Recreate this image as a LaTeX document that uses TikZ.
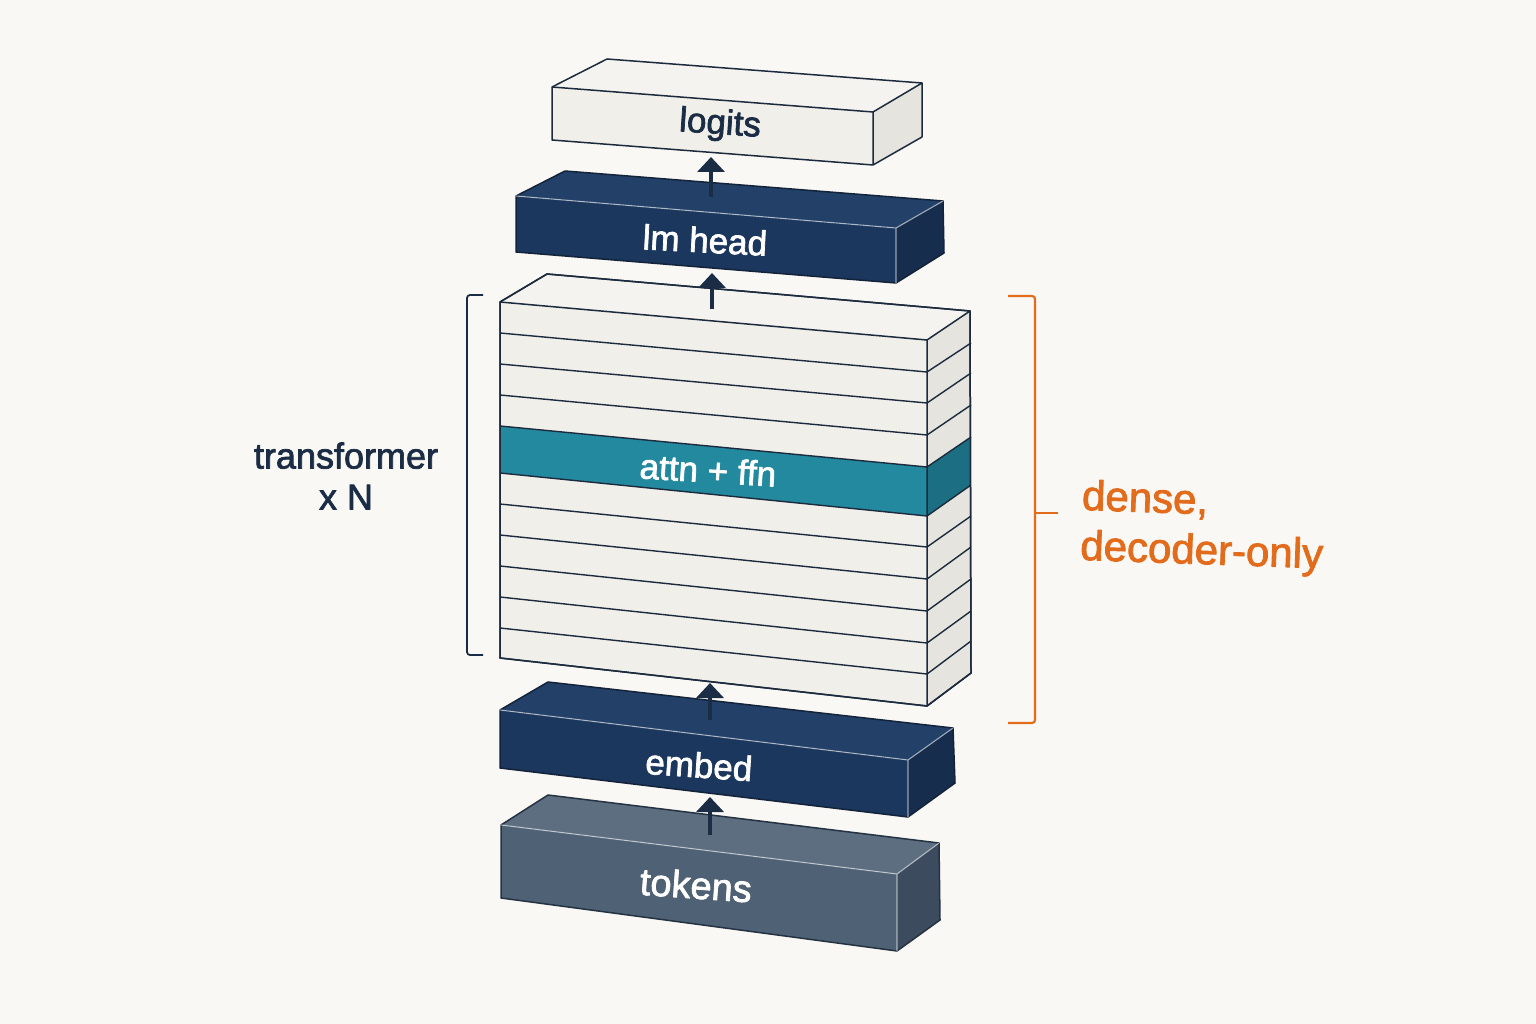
\documentclass[tikz,border=0pt]{standalone}
\usepackage{fontspec}
\setmainfont{Liberation Sans}[FakeBold=2]
\usetikzlibrary{arrows.meta}
\definecolor{bg}{HTML}{F9F8F4}
\definecolor{navyline}{HTML}{1C2A3D}
\definecolor{navytext}{HTML}{1B2C45}
\definecolor{lightfront}{HTML}{F0EFEA}
\definecolor{lighttop}{HTML}{F4F3EF}
\definecolor{lightside}{HTML}{E5E4DF}
\definecolor{darkfront}{HTML}{1C375E}
\definecolor{darktop}{HTML}{234168}
\definecolor{darkside}{HTML}{172D4D}
\definecolor{darkedge}{HTML}{13233A}
\definecolor{slatefront}{HTML}{4F6174}
\definecolor{slatetop}{HTML}{5D6E80}
\definecolor{slateside}{HTML}{3C4C5E}
\definecolor{slateedge}{HTML}{243242}
\definecolor{tealfront}{HTML}{23899E}
\definecolor{tealside}{HTML}{1C6F82}
\definecolor{orangeac}{HTML}{E26C1C}
\newcommand\slab[5]{%
  \fill[#3] (#1ftl) -- (#1btl) -- (#1btr) -- (#1ftr) -- cycle;
  \fill[#2] (#1ftl) -- (#1ftr) -- (#1fbr) -- (#1fbl) -- cycle;
  \fill[#4] (#1ftr) -- (#1btr) -- (#1bbr) -- (#1fbr) -- cycle;
  \draw[#5] (#1fbl) -- (#1ftl) -- (#1btl) -- (#1btr) -- (#1bbr) -- (#1fbr) -- cycle;
}
\begin{document}
\begin{tikzpicture}[x=1pt,y=-1pt,line join=round,
  lightedge/.style={draw=navyline,line width=1.5pt},
  darkedgestyle/.style={draw=darkedge,line width=1.5pt},
  slateedgestyle/.style={draw=slateedge,line width=1.5pt},
  hilite/.style={draw=white,opacity=0.55,line width=1.1pt},
  layerline/.style={draw=navyline,line width=1.4pt},
  flow/.style={draw=navytext,line width=3.6pt,-{Triangle[width=27pt,length=15pt]}},
  boxlabel/.style={font=\fontsize{35}{40}\selectfont,inner sep=0pt},
  sidelabel/.style={font=\fontsize{36}{41}\selectfont,text=navytext,align=center,inner sep=0pt},
  accentlabel/.style={font=\fontsize{42}{50}\selectfont,text=orangeac,align=left,inner sep=0pt},
  navybracket/.style={draw=navytext,line width=1.8pt,rounded corners=3pt},
  orangebracket/.style={draw=orangeac,line width=2.2pt,rounded corners=3pt}]
\useasboundingbox[fill=bg] (0,0) rectangle (1536,1024);

% ---------- logits ----------
\coordinate (Lftl) at (552,87);  \coordinate (Lftr) at (873,112);
\coordinate (Lfbr) at (873,165); \coordinate (Lfbl) at (552,140);
\coordinate (Lbtl) at (607,59);  \coordinate (Lbtr) at (922,83);
\coordinate (Lbbr) at (922,137);
\slab{L}{lightfront}{lighttop}{lightside}{lightedge}
\draw[lightedge] (Lftl) -- (Lftr) -- (Lbtr) (Lftr) -- (Lfbr);
\node[boxlabel,text=navytext,rotate=-4] (logits) at (720,125) {logits};

% ---------- lm head ----------
\coordinate (Hftl) at (516,196); \coordinate (Hftr) at (896,228);
\coordinate (Hfbr) at (896,283); \coordinate (Hfbl) at (516,252);
\coordinate (Hbtl) at (565,171); \coordinate (Hbtr) at (943,201);
\coordinate (Hbbr) at (944,253);
\slab{H}{darkfront}{darktop}{darkside}{darkedgestyle}
\draw[hilite] (Hftl) -- (Hftr) -- (Hbtr) (Hftr) -- (Hfbr);
\node[boxlabel,text=white,rotate=-3] (lmhead) at (705,240) {lm head};

% ---------- transformer stack ----------
\coordinate (Sftl) at (500,302); \coordinate (Sftr) at (927,340);
\coordinate (Sfbr) at (927,706); \coordinate (Sfbl) at (500,658);
\coordinate (Sbtl) at (547,274); \coordinate (Sbtr) at (970,311);
\coordinate (Sbbr) at (971,673);
\slab{S}{lightfront}{lighttop}{lightside}{lightedge}
\fill[tealfront] (500,426) -- (927,467) -- (927,516) -- (500,473) -- cycle;
\fill[tealside] (927,467) -- (971,437) -- (971,485) -- (927,516) -- cycle;
\foreach \l/\r/\b in {333/372/343,364/403/373,395/435/405,426/467/437,473/516/485,
                      504/547/516,535/579/547,566/611/579,597/643/611,628/674/641}{
  \draw[layerline] (500,\l) -- (927,\r) -- (971,\b);
}
\draw[lightedge] (Sfbl) -- (Sftl) -- (Sbtl) -- (Sbtr) -- (Sbbr) -- (Sfbr) -- cycle;
\draw[lightedge] (Sftl) -- (Sftr) -- (Sbtr) (Sftr) -- (Sfbr);
\node[boxlabel,text=white,rotate=-3.5] (attn) at (708,470) {attn + ffn};

% ---------- embed ----------
\coordinate (Eftl) at (500,710); \coordinate (Eftr) at (908,760);
\coordinate (Efbr) at (908,817); \coordinate (Efbl) at (500,768);
\coordinate (Ebtl) at (548,682); \coordinate (Ebtr) at (953,728);
\coordinate (Ebbr) at (955,783);
\slab{E}{darkfront}{darktop}{darkside}{darkedgestyle}
\draw[hilite] (Eftl) -- (Eftr) -- (Ebtr) (Eftr) -- (Efbr);
\node[boxlabel,text=white,rotate=-4] (embed) at (699,765) {embed};

% ---------- tokens ----------
\coordinate (Tftl) at (501,825); \coordinate (Tftr) at (897,874);
\coordinate (Tfbr) at (897,951); \coordinate (Tfbl) at (501,898);
\coordinate (Tbtl) at (548,795); \coordinate (Tbtr) at (939,843);
\coordinate (Tbbr) at (940,920);
\slab{T}{slatefront}{slatetop}{slateside}{slateedgestyle}
\draw[hilite] (Tftl) -- (Tftr) -- (Tbtr) (Tftr) -- (Tfbr);
\node[boxlabel,text=white,rotate=-4,font=\fontsize{38}{42}\selectfont] (tokens) at (696,885) {tokens};

% ---------- flow arrows ----------
\coordinate (a1s) at (711,197); \coordinate (a1e) at (711,157);
\coordinate (a2s) at (712,309); \coordinate (a2e) at (712,273);
\coordinate (a3s) at (710,720); \coordinate (a3e) at (710,683);
\coordinate (a4s) at (710,835); \coordinate (a4e) at (710,797);
\draw[flow] (a1s) -- (a1e);
\draw[flow] (a2s) -- (a2e);
\draw[flow] (a3s) -- (a3e);
\draw[flow] (a4s) -- (a4e);

% ---------- left bracket ----------
\coordinate (lb1) at (483,295); \coordinate (lb2) at (467,295);
\coordinate (lb3) at (467,655); \coordinate (lb4) at (483,655);
\draw[navybracket] (lb1) -- (lb2) -- (lb3) -- (lb4);
\node[sidelabel] (tfN) at (346,476) {transformer\\x N};

% ---------- right bracket ----------
\coordinate (rb1) at (1008,296); \coordinate (rb2) at (1035,296);
\coordinate (rb3) at (1035,723); \coordinate (rb4) at (1008,723);
\coordinate (rbm) at (1035,513); \coordinate (rbt) at (1058,513);
\draw[orangebracket] (rb1) -- (rb2) -- (rb3) -- (rb4);
\draw[orangebracket] (rbm) -- (rbt);
\node[accentlabel,anchor=west,rotate=-2] (dense) at (1081,524) {dense,\\decoder-only};
\end{tikzpicture}
\end{document}
